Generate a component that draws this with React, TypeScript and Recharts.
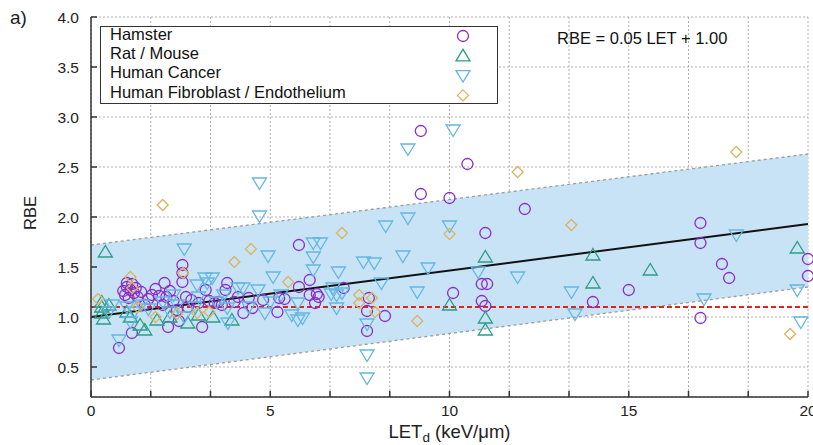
import React from 'react';
import {
  ComposedChart,
  Scatter,
  Line,
  Area,
  XAxis,
  YAxis,
  CartesianGrid,
  Legend,
} from 'recharts';

const FONT = '"Liberation Sans", Arial, sans-serif';

// axis ticks (grid lines sit on every x tick, labels only on multiples of 5)
const xTicks = [0, 1.667, 3.333, 5, 6.667, 8.333, 10, 11.667, 13.333, 15, 16.667, 18.333, 20];
const yTicks = [0.5, 1.0, 1.5, 2.0, 2.5, 3.0, 3.5, 4.0];

// fit line, uncertainty band and the 1.1 reference
const bandLet = [0, 20];
const bandLow = [0.37, 1.3];
const bandHigh = [1.72, 2.63];
const fitRbe = [1.0, 1.93];
const refRbe = [1.1, 1.1];

const seriesNames = ['Hamster', 'Rat / Mouse', 'Human Cancer', 'Human Fibroblast / Endothelium'];
const seriesColors = ['#8b2cc8', '#2a9d84', '#63b6e2', '#d9b560'];
const seriesShapes = ['circle', 'up', 'down', 'diamond'];

// [LETd, RBE]
const hamster = [
  [9.2, 2.86], [10.5, 2.53], [9.2, 2.23], [10.0, 2.19], [12.1, 2.08], [11.0, 1.84],
  [17.0, 1.94], [17.0, 1.74], [17.6, 1.53], [17.8, 1.39], [15.0, 1.27], [14.0, 1.15],
  [17.0, 0.99], [20.0, 1.58], [20.0, 1.41], [10.1, 1.24], [10.9, 1.33], [11.05, 1.33],
  [10.9, 1.16], [11.0, 1.11],
  [5.8, 1.72], [6.1, 1.37], [5.8, 1.3], [6.1, 1.22], [6.3, 1.23], [6.35, 1.2], [6.25, 1.14],
  [7.05, 1.29], [7.75, 1.19], [7.7, 1.06], [8.2, 1.01], [7.7, 0.86], [5.4, 1.18],
  [2.55, 1.52], [2.55, 1.44], [2.55, 1.35], [3.8, 1.34], [3.75, 1.27], [3.2, 1.27],
  [4.4, 1.19], [4.8, 1.17], [5.25, 1.19], [5.2, 1.05], [4.5, 1.09], [4.25, 1.04],
  [3.1, 0.9], [3.45, 1.14], [3.55, 1.15], [3.0, 1.14], [2.8, 1.17], [2.65, 1.2], [3.3, 1.16],
  [3.65, 1.12], [4.0, 1.15], [4.1, 1.2],
  [1.0, 1.3], [1.1, 1.27], [1.2, 1.24], [0.95, 1.22], [1.15, 1.33], [1.3, 1.2],
  [1.05, 1.19], [1.25, 1.29], [1.4, 1.25], [0.9, 1.26], [1.0, 1.34], [1.14, 0.84], [0.78, 0.69],
  [2.05, 1.34], [1.7, 1.22], [2.15, 0.9], [1.6, 1.18], [1.9, 1.21], [2.2, 1.26],
  [2.3, 1.16], [2.0, 1.12], [1.8, 1.28], [2.4, 1.07], [2.7, 1.1], [2.45, 0.96], [1.5, 1.12], [2.1, 1.2],
];

const ratMouse = [
  [0.4, 1.65], [0.3, 1.15], [0.3, 1.1], [0.3, 1.04], [0.35, 0.98], [0.5, 1.12],
  [1.0, 1.05], [1.1, 1.0], [1.37, 0.92], [1.5, 0.87], [1.84, 0.97], [2.7, 0.94],
  [3.0, 1.02], [3.4, 1.0], [3.93, 0.97], [2.2, 1.0],
  [10.0, 1.12], [11.0, 1.6], [11.0, 0.99], [11.0, 0.87],
  [14.0, 1.62], [14.0, 1.34], [15.6, 1.47], [19.7, 1.69],
];

const humanCancer = [
  [10.1, 2.87], [8.84, 2.68], [4.7, 2.34], [4.7, 2.01], [8.84, 1.99], [8.22, 1.91], [10.0, 1.91],
  [2.6, 1.68], [4.94, 1.61], [6.2, 1.74], [6.4, 1.74], [6.2, 1.6], [6.2, 1.47], [6.9, 1.45],
  [7.6, 1.55], [7.9, 1.54], [8.7, 1.61], [9.4, 1.49], [10.8, 1.45], [11.9, 1.4], [8.1, 1.34],
  [9.1, 1.25], [6.7, 1.23], [6.85, 1.22], [7.0, 1.24], [6.75, 1.29], [6.85, 1.09], [7.7, 0.93],
  [5.9, 0.99], [7.7, 0.62], [7.7, 0.39], [5.77, 0.97], [5.77, 1.14],
  [18.0, 1.82], [13.4, 1.25], [13.5, 1.03], [17.1, 1.18], [19.7, 1.27], [19.8, 0.95],
  [5.08, 1.4], [3.24, 1.34], [3.18, 1.39], [3.38, 1.39], [2.96, 1.32], [4.1, 1.29], [4.24, 1.29],
  [4.66, 1.27], [3.8, 1.09], [4.85, 1.04], [5.6, 1.02], [3.82, 0.94], [0.78, 0.77],
  [1.0, 1.1], [1.2, 1.05], [1.4, 1.12], [1.6, 1.08], [2.0, 1.15], [2.2, 1.05], [2.4, 1.12],
  [2.6, 1.0], [2.9, 1.1], [3.5, 1.15], [1.1, 0.95], [0.5, 1.05], [0.6, 1.12], [2.3, 1.22],
  [5.3, 1.22], [5.0, 1.15], [3.0, 1.2], [3.7, 1.22], [4.4, 1.1],
];

const humanFibroblast = [
  [2.0, 2.12], [4.46, 1.68], [4.0, 1.55], [7.0, 1.84], [10.0, 1.83], [11.9, 2.45],
  [7.48, 1.22], [7.48, 1.14], [7.84, 1.19], [7.92, 1.05], [9.1, 0.96], [18.0, 2.65],
  [13.4, 1.92], [19.5, 0.83], [0.2, 1.18], [1.1, 1.4], [1.15, 1.29], [1.8, 1.0],
  [2.4, 1.03], [2.96, 1.04], [2.57, 1.44], [5.5, 1.35], [1.3, 1.1], [3.3, 1.05],
];

const seriesData = [hamster, ratMouse, humanCancer, humanFibroblast];

const lineData = bandLet.map((x, i) => ({
  x,
  band: [bandLow[i], bandHigh[i]],
  fit: fitRbe[i],
  ref: refRbe[i],
}));

// open gnuplot-style point markers
function Marker({ kind, cx, cy, color }: any) {
  const common = { fill: 'none', stroke: color, strokeWidth: 1.3 };
  if (kind === 'circle') return <circle cx={cx} cy={cy} r={5.5} {...common} />;
  if (kind === 'up')
    return <polygon points={`${cx},${cy - 6.5} ${cx - 7},${cy + 5} ${cx + 7},${cy + 5}`} {...common} />;
  if (kind === 'down')
    return <polygon points={`${cx - 7},${cy - 5} ${cx + 7},${cy - 5} ${cx},${cy + 6.5}`} {...common} />;
  return <polygon points={`${cx},${cy - 5.5} ${cx + 5.5},${cy} ${cx},${cy + 5.5} ${cx - 5.5},${cy}`} {...common} />;
}

const renderLegend = () => (
  <svg width={398} height={78} style={{ display: 'block' }}>
    <rect x={0.5} y={0.5} width={397} height={77} fill="#fff" stroke="#333" />
    {seriesNames.map((name, i) => (
      <g key={name}>
        <text x={10} y={13.5 + i * 19.4} fontSize={16.5} fontFamily={FONT} fill="#111">
          {name}
        </text>
        <Marker kind={seriesShapes[i]} cx={363} cy={10 + i * 19.8} color={seriesColors[i]} />
      </g>
    ))}
  </svg>
);

const XLabel = ({ viewBox }: any) => (
  <text
    x={viewBox.x + viewBox.width / 2}
    y={viewBox.y + 41}
    textAnchor="middle"
    fontSize={18.5}
    fontFamily={FONT}
    fill="#222"
  >
    LET
    <tspan dy={4} fontSize={13.5}>d</tspan>
    <tspan dy={-4}> (keV/μm)</tspan>
  </text>
);

const YLabel = ({ viewBox }: any) => (
  <text
    x={30}
    y={viewBox.y + viewBox.height / 2 + 6}
    transform={`rotate(-90, 30, ${viewBox.y + viewBox.height / 2 + 6})`}
    textAnchor="middle"
    dominantBaseline="central"
    fontSize={16.5}
    fontFamily={FONT}
    fill="#222"
  >
    RBE
  </text>
);

const tickStyle = { fill: '#222', fontSize: 15.5, fontFamily: FONT };
const axisStroke = { stroke: '#333', strokeWidth: 1.5 };

export default function App() {
  return (
    <div
      style={{
        position: 'absolute',
        left: 0,
        top: 0,
        width: 813,
        height: 445,
        background: '#fff',
        fontFamily: FONT,
      }}
    >
      <ComposedChart
        width={813}
        height={445}
        data={lineData}
        margin={{ top: 17, right: 5, bottom: 0, left: 0 }}
      >
        <CartesianGrid stroke="#b0b0b0" strokeDasharray="2 2" />
        <XAxis
          dataKey="x"
          type="number"
          domain={[0, 20]}
          ticks={xTicks}
          interval={0}
          height={48}
          tickSize={-6}
          tickMargin={14}
          tick={tickStyle}
          tickLine={axisStroke}
          axisLine={axisStroke}
          tickFormatter={(v: number) => (Math.abs(v % 5) < 0.01 ? String(v) : '')}
          label={{ content: <XLabel /> }}
        />
        <XAxis
          xAxisId="top"
          orientation="top"
          type="number"
          domain={[0, 20]}
          ticks={xTicks}
          interval={0}
          height={0}
          tickSize={-6}
          tickLine={axisStroke}
          axisLine={axisStroke}
          tickFormatter={() => ''}
        />
        <YAxis
          type="number"
          domain={[0.2, 4]}
          ticks={yTicks}
          interval={0}
          width={91}
          tickSize={-6}
          tickMargin={18}
          tick={tickStyle}
          tickLine={axisStroke}
          axisLine={axisStroke}
          tickFormatter={(v: number) => v.toFixed(1)}
          label={{ content: <YLabel /> }}
        />
        <YAxis
          yAxisId="right"
          orientation="right"
          type="number"
          domain={[0.2, 4]}
          ticks={yTicks}
          interval={0}
          width={0}
          tickSize={-6}
          tickLine={axisStroke}
          axisLine={axisStroke}
          tickFormatter={() => ''}
        />
        <Area
          type="linear"
          dataKey="band"
          fill="#c8e3f5"
          fillOpacity={1}
          stroke="#9c9c9c"
          strokeWidth={1.3}
          strokeDasharray="3 3"
          dot={false}
          activeDot={false}
          isAnimationActive={false}
        />
        {seriesData.map((pts, i) => (
          <Scatter
            key={seriesNames[i]}
            name={seriesNames[i]}
            data={pts.map(([x, y]) => ({ x, y }))}
            dataKey="y"
            isAnimationActive={false}
            shape={(p: any) => (
              <Marker kind={seriesShapes[i]} cx={p.cx} cy={p.cy} color={seriesColors[i]} />
            )}
          />
        ))}
        <Line
          type="linear"
          dataKey="fit"
          stroke="#111"
          strokeWidth={2}
          dot={false}
          activeDot={false}
          isAnimationActive={false}
        />
        <Line
          type="linear"
          dataKey="ref"
          stroke="#e2231a"
          strokeWidth={2}
          strokeDasharray="5 3"
          dot={false}
          activeDot={false}
          isAnimationActive={false}
        />
        <Legend
          layout="vertical"
          align="center"
          verticalAlign="middle"
          wrapperStyle={{ left: 100, top: 26, width: 398, height: 78 }}
          content={renderLegend}
        />
      </ComposedChart>
      <div style={{ position: 'absolute', left: 10, top: 7, fontSize: 19, color: '#222' }}>a)</div>
      <div style={{ position: 'absolute', left: 557, top: 29, fontSize: 16.5, color: '#111' }}>
        RBE = 0.05 LET + 1.00
      </div>
    </div>
  );
}
